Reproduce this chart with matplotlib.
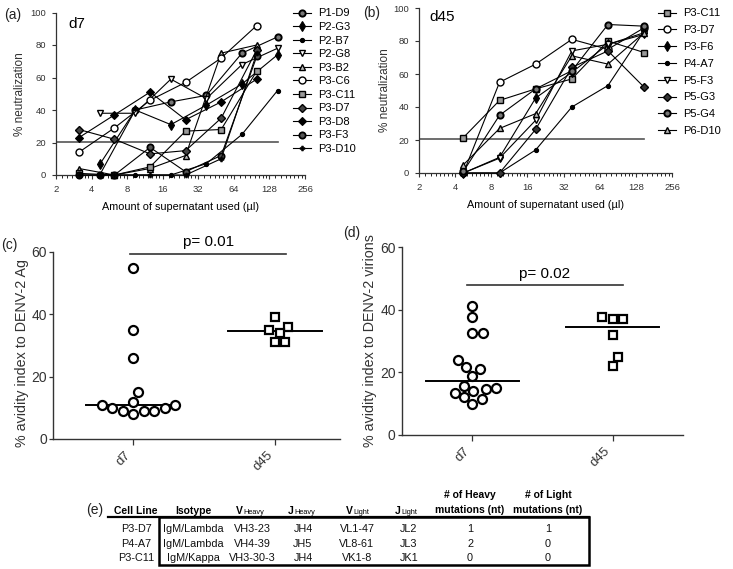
import numpy as np
import matplotlib
matplotlib.use("Agg")
import matplotlib.pyplot as plt
from matplotlib.ticker import NullFormatter
from matplotlib.patches import Rectangle

plt.rcParams['font.family'] = 'Liberation Sans'

# ---- data: panel (a), day 7 clones ----
xa_1 = [3.125, 6.25, 12.5, 25, 50, 100]
xa_2 = [4.6875, 9.375, 18.75, 37.5, 75, 150]
a_names = ["P1-D9", "P2-G3", "P2-B7", "P2-G8", "P3-B2", "P3-C6",
           "P3-C11", "P3-D7", "P3-D8", "P3-F3", "P3-D10"]
a_p1d9 = [0, 40, 45, 49, 75, 85]
a_p2g3 = [6.5, 40, 31, 43, 56, 74]
a_p2b7 = [0, 0, 0, 7, 25, 52]
a_p2g8 = [38, 38, 59, 47, 68, 78]
a_p3b2 = [4, 0, 4, 12, 75, 80]
a_p3c6 = [14, 29, 46, 57, 72, 92]
a_p3c11 = [1, 0, 5, 27, 28, 64]
a_p3d7 = [28, 22, 13, 15, 35, 77]
a_p3d8 = [23, 37, 51, 34, 45, 59]
a_p3f3 = [0, 0, 17, 2, 12, 73]
a_p3d10 = [0, 0, 0, 0, 10, 75]

# ---- data: panel (b), day 45 clones ----
xb = [4.6875, 9.375, 18.75, 37.5, 75, 150]
b_names = ["P3-C11", "P3-D7", "P3-F6", "P4-A7", "P5-F3", "P5-G3", "P5-G4", "P6-D10"]
b_p3c11 = [21.5, 44, 51, 57, 80, 73]
b_p3d7 = [0, 55, 66, 81, 75, 88]
b_p3f6 = [0, 9.5, 45.5, 61, 78, 85]
b_p4a7 = [0, 0, 14, 40, 53, 86]
b_p5f3 = [0, 9, 32, 74, 78, 84]
b_p5g3 = [0, 0, 26.5, 64, 74, 52]
b_p5g4 = [1, 35, 51, 62, 90, 89]
b_p6d10 = [5, 27, 36, 71, 66, 85]

cutoff = 20.5
x_ticks = [2, 4, 8, 16, 32, 64, 128, 256]

# ---- data: panels (c) and (d), avidity index ----
groups = ["d7", "d45"]
c_d7 = [55, 35, 26, 15, 12, 11, 11, 10, 10, 9, 9, 9, 8]
c_d45 = [39, 36, 35, 34, 31, 31]
c_p = "p= 0.01"
d_d7 = [41.2, 37.8, 32.4, 32.6, 23.8, 21.6, 21.2, 18.9, 14.9, 15.7,
        13.9, 13.5, 14.6, 12.0, 11.5, 9.8]
d_d45 = [37.8, 37, 37, 32, 25, 22]
d_p = "p= 0.02"

# ---- data: panel (e), table ----
tab_cell = ["P3-D7", "P4-A7", "P3-C11"]
tab_iso = ["IgM/Lambda", "IgM/Lambda", "IgM/Kappa"]
tab_vh = ["VH3-23", "VH4-39", "VH3-30-3"]
tab_jh = ["JH4", "JH5", "JH4"]
tab_vl = ["VL1-47", "VL8-61", "VK1-8"]
tab_jl = ["JL2", "JL3", "JK1"]
tab_mh = ["1", "2", "0"]
tab_ml = ["1", "0", "0"]

W, H = 733, 569
fig = plt.figure(figsize=(W / 100, H / 100), dpi=100)


def px_axes(l, t, r, b):
    return fig.add_axes([l / W, 1 - b / H, (r - l) / W, (b - t) / H])


# marker styles: (marker, size, face, edge width)
a_styles = [("o", 4.5, "#777777", 1.4), ("d", 5.5, "k", 0.8), ("o", 3, "k", 0.8),
            ("v", 5, "white", 1.0), ("^", 5, "#bbbbbb", 1.0), ("o", 5, "white", 1.0),
            ("s", 4.5, "#999999", 1.0), ("D", 4, "#444444", 1.0), ("D", 4.5, "k", 0.8),
            ("o", 4.5, "#555555", 1.3), ("P", 3.5, "k", 0.5)]
a_series = [a_p1d9, a_p2g3, a_p2b7, a_p2g8, a_p3b2, a_p3c6,
            a_p3c11, a_p3d7, a_p3d8, a_p3f3, a_p3d10]
a_x = [xa_2, xa_2, xa_2, xa_2, xa_1, xa_1, xa_1, xa_1, xa_1, xa_1, xa_1]

b_styles = [("s", 4.5, "#999999", 1.0), ("o", 5, "white", 1.0), ("d", 5.5, "k", 0.8),
            ("o", 3, "k", 0.8), ("v", 5, "white", 1.0), ("D", 4, "#333333", 1.0),
            ("o", 4.5, "#777777", 1.4), ("^", 5, "#bbbbbb", 1.0)]
b_series = [b_p3c11, b_p3d7, b_p3f6, b_p4a7, b_p5f3, b_p5g3, b_p5g4, b_p6d10]


def neut_panel(ax, xs, series, styles, names, leg_x, leg_spacing):
    handles = []
    for x, y, st, nm in zip(xs, series, styles, names):
        m, ms, fc, mew = st
        ln, = ax.plot(x, y, color="k", lw=0.8, marker=m, ms=ms, mfc=fc,
                      mec="k", mew=mew, label=nm, clip_on=False, zorder=3)
        handles.append(ln)
    ax.plot([2, 150], [cutoff, cutoff], color="#555555", lw=1.2, zorder=2)
    ax.set_xscale("log", base=2)
    ax.set_xlim(2, 256)
    ax.set_ylim(0, 100)
    ax.set_xticks(x_ticks)
    ax.set_xticklabels([str(t) for t in x_ticks])
    minors = [2 ** k * (1 + i / 8) for k in range(1, 8) for i in range(1, 8)]
    ax.set_xticks(minors, minor=True)
    ax.xaxis.set_minor_formatter(NullFormatter())
    ax.set_yticks([0, 20, 40, 60, 80, 100])
    for s in ["top", "right"]:
        ax.spines[s].set_visible(False)
    for s in ["left", "bottom"]:
        ax.spines[s].set_linewidth(0.9)
        ax.spines[s].set_color("#333333")
    ax.tick_params(labelsize=6.8, length=3, width=0.8, colors="#333333", pad=4)
    ax.tick_params(which="minor", length=2, width=0.6)
    ax.set_xlabel("Amount of supernatant used (µl)", fontsize=7.8, labelpad=6)
    ax.set_ylabel("% neutralization", fontsize=8.5, color="#333333")
    fig.legend(handles=handles, loc="upper left",
               bbox_to_anchor=(leg_x / W, 1 - 8.5 / H), frameon=False,
               fontsize=8, handlelength=1.6, handletextpad=0.7,
               labelspacing=leg_spacing, borderpad=0, borderaxespad=0)


ax_a = px_axes(56, 12.5, 305, 175)
neut_panel(ax_a, a_x, a_series, a_styles, a_names, 293, 0.32)
ax_a.yaxis.set_label_coords(-0.12, 0.5)
ax_a.text(0.05, 0.97, "d7", transform=ax_a.transAxes, fontsize=11, va="top")

ax_b = px_axes(419, 8, 672, 173)
neut_panel(ax_b, [xb] * len(b_series), b_series, b_styles, b_names, 658, 0.61)
ax_b.yaxis.set_label_coords(-0.11, 0.5)
ax_b.text(0.04, 0.99, "d45", transform=ax_b.transAxes, fontsize=11, va="top")


def swarm(vals, d_px, ppu_x, ppu_y):
    vals = np.asarray(vals, dtype=float)
    offs = np.zeros(len(vals))
    placed = []
    cands = [0.0]
    for k in range(1, 400):
        cands += [k * 0.5, -k * 0.5]
    for i in np.argsort(vals):
        y = vals[i] * ppu_y
        for c in cands:
            if all((c - px) ** 2 + (y - py) ** 2 >= d_px ** 2 for px, py in placed):
                break
        placed.append((c, y))
        offs[i] = c / ppu_x
    return offs


def avidity_panel(ax, v7, v45, ptxt, xlim, pw_px, ph_px, bar_y, bar_x, txt_y, ylab):
    ax.set_xlim(*xlim)
    ax.set_ylim(0, 60)
    ppu_x = pw_px / (xlim[1] - xlim[0])
    ppu_y = ph_px / 60
    for i, (vals, m) in enumerate([(v7, "o"), (v45, "s")]):
        offs = swarm(vals, 10.5, ppu_x, ppu_y)
        ax.plot(i + offs, vals, ls="none", marker=m, ms=6.5 if m == "o" else 6,
                mfc="white", mec="k", mew=1.6, clip_on=False, zorder=3)
        med = np.median(vals)
        ax.plot([i - 0.33, i + 0.33], [med, med], color="k", lw=1.4, zorder=2)
    ax.plot(bar_x, [bar_y, bar_y], color="#333333", lw=1.2, clip_on=False)
    ax.text(sum(bar_x) / 2, txt_y, ptxt, ha="center", va="bottom", fontsize=11)
    ax.set_xticks([0, 1])
    ax.set_xticklabels(groups, rotation=45, ha="right", fontsize=9.5)
    ax.set_yticks([0, 20, 40, 60])
    for s in ["top", "right"]:
        ax.spines[s].set_visible(False)
    for s in ["left", "bottom"]:
        ax.spines[s].set_linewidth(1.0)
        ax.spines[s].set_color("#333333")
    ax.tick_params(axis="y", labelsize=10, length=3, width=0.9, pad=1.5,
                   colors="#333333")
    ax.tick_params(axis="x", length=4, width=0.9, colors="#333333")
    ax.set_ylabel(ylab, fontsize=10.3, color="#333333")


ax_c = px_axes(53, 252, 340, 439)
avidity_panel(ax_c, c_d7, c_d45, c_p, (-0.565, 1.46), 287, 187, 59.5,
              [-0.02, 1.08], 61, "% avidity index to DENV-2 Ag")
ax_c.yaxis.set_label_coords(-0.085, 0.46)

ax_d = px_axes(402, 247, 683, 435)
avidity_panel(ax_d, d_d7, d_d45, d_p, (-0.5, 1.5), 281, 188, 47.8,
              [-0.04, 1.07], 49, "% avidity index to DENV-2 virions")
ax_d.yaxis.set_label_coords(-0.09, 0.5)

# ---- overlay for panel letters and the table ----
ov = fig.add_axes([0, 0, 1, 1])
ov.set_xlim(0, W)
ov.set_ylim(H, 0)
ov.axis("off")

for lab, x, y in [("(a)", 4, 15), ("(b)", 363, 13), ("(c)", 1, 245),
                  ("(d)", 343, 233), ("(e)", 86, 510)]:
    ov.text(x, y, lab, fontsize=10, va="center", ha="left", color="#222222")

col_x = [136, 193, 252, 303, 357, 409, 470, 548]
hdr_y = 514
hfs = 7.5
ov.text(col_x[0], hdr_y, "Cell Line", weight="bold", fontsize=hfs,
        ha="center", va="baseline")
ov.text(col_x[1], hdr_y, "Isotype", weight="bold", fontsize=hfs,
        ha="center", va="baseline")
for split_x, big, small in [(243, "V", "Heavy"), (294, "J", "Heavy"),
                            (353, "V", "Light"), (401, "J", "Light")]:
    ov.text(split_x, hdr_y, big, weight="bold", fontsize=hfs,
            ha="right", va="baseline")
    ov.text(split_x + 0.5, hdr_y, small, fontsize=5.3,
            ha="left", va="baseline")
for cx, lines in [(col_x[6], ["# of Heavy", "mutations (nt)"]),
                  (col_x[7], ["# of Light", "mutations (nt)"])]:
    ov.text(cx, hdr_y - 16, lines[0], weight="bold", fontsize=hfs,
            ha="center", va="baseline")
    ov.text(cx, hdr_y - 1, lines[1], weight="bold", fontsize=hfs,
            ha="center", va="baseline")

row_y = [532, 547, 561]
cols = [tab_cell, tab_iso, tab_vh, tab_jh, tab_vl, tab_jl, tab_mh, tab_ml]
for cx, col in zip(col_x, cols):
    for ry, val in zip(row_y, col):
        ov.text(cx, ry, val, fontsize=7.8, ha="center",
                va="baseline", color="#111111")

ov.plot([108, 589], [517, 517], color="k", lw=1.6)
ov.add_patch(Rectangle((159, 517), 430, 48, fill=False, ec="k", lw=1.8))

fig.savefig("out.png", dpi=100)
